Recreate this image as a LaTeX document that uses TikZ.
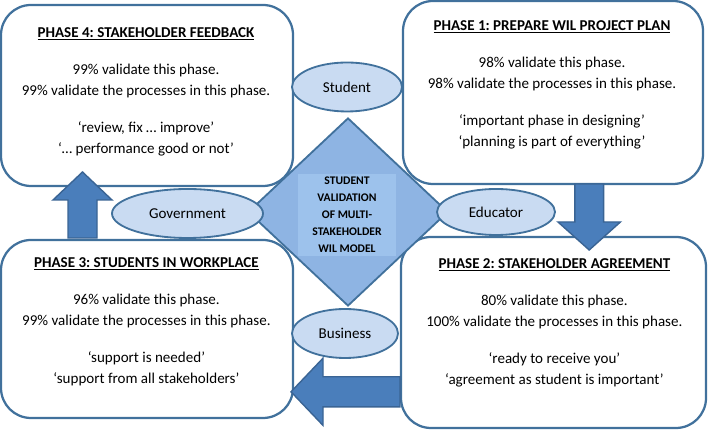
\documentclass[tikz,border=0pt]{standalone}
\usepackage{fontspec}
\setmainfont{Carlito}
\usetikzlibrary{calc,positioning,shapes}
\usepackage{xcolor}
\definecolor{boxline}{HTML}{41719C}
\definecolor{arrowfill}{HTML}{4A7EBB}
\definecolor{arrowline}{HTML}{3A6494}
\definecolor{corefill}{HTML}{8EB4E3}
\definecolor{coreinner}{HTML}{9DC2EC}
\definecolor{rolefill}{HTML}{C9DBF2}
\frenchspacing

\begin{document}
\begin{tikzpicture}
\useasboundingbox (0,0) rectangle (17.7,10.775);
\tikzstyle{phase}=[draw=boxline, line width=1.6pt, fill=white, rounded corners=0.75cm, inner sep=0pt]
\tikzstyle{phasetext}=[anchor=north, align=center, inner sep=0pt, font=\fontsize{10.7}{14.9}\selectfont]
\tikzstyle{role}=[ellipse, draw=boxline, line width=1.3pt, fill=rolefill, inner sep=0pt, font=\fontsize{10.7}{13}\selectfont]
\tikzstyle{blockarrow}=[draw=arrowline, line width=1pt, fill=arrowfill, line join=miter]
\node[phase, minimum width=7.3cm, minimum height=4.525cm] (p4) at (3.675,8.3875) {};
\node[phase, minimum width=7.5cm, minimum height=4.575cm] (p1) at (13.825,8.4625) {};
\node[phase, minimum width=7.3cm, minimum height=4.45cm] (p3) at (3.675,2.55) {};
\node[phase, minimum width=7.625cm, minimum height=4.775cm] (p2) at (13.8375,2.4625) {};
\node[phasetext] (t4) at (3.65,10.1) {\textbf{\underline{PHASE 4: STAKEHOLDER FEEDBACK}}\\[11.5pt]
99\% validate this phase.\\
99\% validate the processes in this phase.\\[11.5pt]
‘review, fix … improve’\\
‘… performance good or not’};
\node[phasetext] (t1) at (13.8,10.275) {\textbf{\underline{PHASE 1: PREPARE WIL PROJECT PLAN}}\\[11.5pt]
98\% validate this phase.\\
98\% validate the processes in this phase.\\[11.5pt]
‘important phase in designing’\\
‘planning is part of everything’};
\node[phasetext] (t3) at (3.66,4.35) {\textbf{\underline{PHASE 3: STUDENTS IN WORKPLACE}}\\[11.5pt]
96\% validate this phase.\\
99\% validate the processes in this phase.\\[11.5pt]
‘support is needed’\\
‘support from all stakeholders’};
\node[phasetext] (t2) at (13.86,4.325) {\textbf{\underline{PHASE 2: STAKEHOLDER AGREEMENT}}\\[11.5pt]
80\% validate this phase.\\
100\% validate the processes in this phase.\\[11.5pt]
‘ready to receive you’\\
‘agreement as student is important’};
\node[diamond, draw=boxline, line width=1.3pt, fill=corefill, inner sep=0pt, minimum width=5cm, minimum height=4.7cm] (core) at (8.7,5.475) {};
\node[fill=coreinner, align=center, inner xsep=0.35cm, inner ysep=0.08cm, font=\fontsize{8.3}{12.1}\selectfont\bfseries] (model) at (8.675,5.4) {STUDENT\\VALIDATION\\OF MULTI-\\STAKEHOLDER\\WIL MODEL};
\node[role, minimum width=2.75cm, minimum height=1.225cm] (student) at (8.675,8.6) {Student};
\node[role, minimum width=3.775cm, minimum height=1.225cm] (government) at (4.6875,5.4375) {Government};
\node[role, minimum width=2.95cm, minimum height=1.15cm] (educator) at (12.4,5.475) {Educator};
\node[role, minimum width=2.65cm, minimum height=1.225cm] (business) at (8.625,2.4375) {Business};
\draw[blockarrow] (1.7,4.825) -- (1.7,5.775) -- (1.325,5.775) -- (2.0625,6.475) -- (2.8,5.775) -- (2.425,5.775) -- (2.425,4.825) -- cycle;
\draw[blockarrow] (14.37,6.175) -- (14.37,5.225) -- (13.95,5.225) -- (14.73,4.525) -- (15.51,5.225) -- (15.09,5.225) -- (15.09,6.175) -- cycle;
\draw[blockarrow] (10,1.355) -- (8.075,1.355) -- (8.075,1.82) -- (7.275,0.98) -- (8.075,0.14) -- (8.075,0.605) -- (10,0.605) -- cycle;
\end{tikzpicture}
\end{document}
